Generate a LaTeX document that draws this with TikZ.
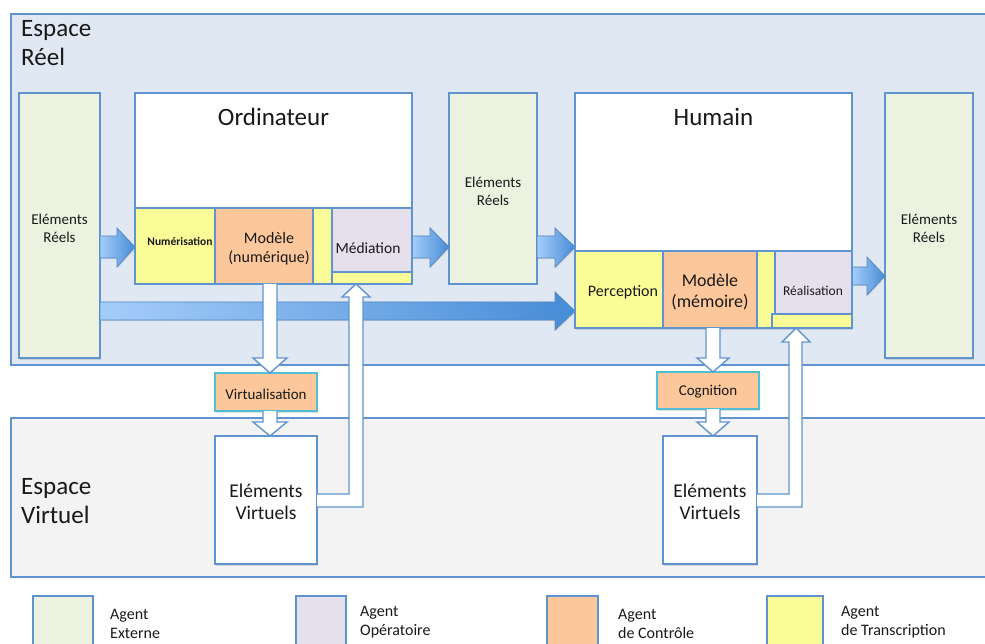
\documentclass[tikz,border=0pt]{standalone}
\usepackage{fontspec}
\setmainfont{Carlito}
\usetikzlibrary{shadows}
\definecolor{bord}{RGB}{96,148,208}
\definecolor{reelfill}{RGB}{223,232,243}
\definecolor{virtfill}{RGB}{243,243,243}
\definecolor{agreen}{RGB}{235,242,224}
\definecolor{ayellow}{RGB}{250,252,152}
\definecolor{apeach}{RGB}{252,200,155}
\definecolor{alav}{RGB}{229,224,236}
\definecolor{acyan}{RGB}{80,192,212}
\definecolor{gradlight}{RGB}{165,205,250}
\definecolor{graddark}{RGB}{70,140,215}
\tikzset{
  zone/.style={draw=bord, line width=1.5pt},
  boxx/.style={draw=bord, line width=1.6pt, anchor=north west, inner sep=0pt, outer sep=0pt,
     drop shadow={opacity=0.25, shadow xshift=1pt, shadow yshift=-1.5pt}},
  plain/.style={draw=bord, line width=1.6pt, anchor=north west, inner sep=0pt, outer sep=0pt},
  cyanbox/.style={draw=acyan, line width=1.5pt, anchor=north west, inner sep=0pt, outer sep=0pt,
     drop shadow={opacity=0.25, shadow xshift=1pt, shadow yshift=-1.5pt}},
  txt/.style={inner sep=0pt, align=center, text=black!90},
  whitearrow/.style={fill=white, draw=bord, line width=1.4pt, line join=miter},
  bluearrow/.style={left color=gradlight, right color=graddark, draw=bord!90!black, line width=0.7pt,
     drop shadow={opacity=0.2, shadow xshift=0.8pt, shadow yshift=-1.2pt}},
}
\newcommand{\bx}[7]{\node[#1, fill=#2, minimum width=#5pt, minimum height=#6pt] (#7) at (#3,#4) {};}
\begin{document}
\begin{tikzpicture}[x=1pt,y=-1pt]
\useasboundingbox (0,0) rectangle (985,644);
% spaces
\draw[zone, fill=reelfill] (11,14) rectangle (995,365);
\draw[zone, fill=virtfill] (11,418) rectangle (995,577);
\node[txt, anchor=west, font=\fontsize{25}{29}\selectfont, align=left] (er) at (21,43) {Espace\\Réel};
\node[txt, anchor=west, font=\fontsize{25}{29}\selectfont, align=left] (ev) at (21,501) {Espace\\Virtuel};

% elements reels
\bx{boxx}{agreen}{19}{93}{81}{265}{erl}
\bx{boxx}{agreen}{449}{93}{88}{191}{erm}
\bx{boxx}{agreen}{885}{93}{88}{265}{err}
\node[txt, font=\fontsize{15}{18}\selectfont] (erlt) at (59.5,228) {Eléments\\Réels};
\node[txt, font=\fontsize{15}{18}\selectfont] (ermt) at (493,191) {Eléments\\Réels};
\node[txt, font=\fontsize{15}{18}\selectfont] (errt) at (929,228) {Eléments\\Réels};

% blue arrows
\coordinate (a1e) at (135,247);
\shadedraw[bluearrow] (100,236) -- (117,236) -- (117,228) -- (a1e) -- (117,267) -- (117,258) -- (100,258) -- cycle;
\coordinate (a2e) at (449,247);
\shadedraw[bluearrow] (412,236) -- (430,236) -- (430,228) -- (a2e) -- (430,267) -- (430,258) -- (412,258) -- cycle;
\coordinate (a3e) at (575,247);
\shadedraw[bluearrow] (537,236) -- (555,236) -- (555,228) -- (a3e) -- (555,267) -- (555,258) -- (537,258) -- cycle;
\coordinate (a4e) at (885,276);
\shadedraw[bluearrow] (852,267) -- (867,267) -- (867,257) -- (a4e) -- (867,295) -- (867,285) -- (852,285) -- cycle;
\coordinate (a5e) at (575,311);
\shadedraw[bluearrow] (100,302) -- (555,302) -- (555,292) -- (a5e) -- (555,330) -- (555,320) -- (100,320) -- cycle;

% Ordinateur
\bx{boxx}{white}{135}{93}{277}{191}{ordi}
\node[txt, font=\fontsize{25}{29}\selectfont] (ordit) at (273.5,117) {Ordinateur};
\bx{plain}{ayellow}{135}{208}{80}{76}{num}
\bx{plain}{apeach}{215}{208}{98}{76}{modn}
\bx{plain}{ayellow}{313}{208}{19}{76}{ystr1}
\bx{plain}{alav}{332}{208}{80}{64}{med}
\bx{plain}{ayellow}{332}{272}{80}{12}{ybot1}
\node[txt, font=\fontsize{11.5}{13}\bfseries\selectfont] (numt) at (180,241) {Numérisation};
\node[txt, font=\fontsize{16}{19}\selectfont] (modnt) at (269,249) {Modèle\\(numérique)};
\node[txt, font=\fontsize{15.5}{18}\selectfont] (medt) at (368,248) {Médiation};

% Humain
\bx{boxx}{white}{575}{93}{277}{235}{hum}
\node[txt, font=\fontsize{25}{29}\selectfont] (humt) at (713.5,117) {Humain};
\bx{plain}{ayellow}{575}{251}{88}{77}{perc}
\bx{plain}{apeach}{663}{251}{94}{77}{modm}
\bx{plain}{ayellow}{757}{251}{18}{77}{ystr2}
\bx{plain}{alav}{775}{251}{77}{63}{real}
\bx{plain}{ayellow}{772}{314}{80}{14}{ybot2}
\node[txt, font=\fontsize{16}{19}\selectfont] (perct) at (623,292) {Perception};
\node[txt, font=\fontsize{18}{21}\selectfont] (modmt) at (710,291.5) {Modèle\\(mémoire)};
\node[txt, font=\fontsize{13.5}{16}\selectfont] (realt) at (813,291) {Réalisation};

% virtual side, computer
\bx{cyanbox}{apeach}{215}{373}{102}{38}{virt}
\node[txt, font=\fontsize{15}{18}\selectfont] (virtt) at (266,394) {Virtualisation};
\bx{boxx}{white}{215}{436}{102}{128}{evc}
\node[txt, font=\fontsize{19.5}{22}\selectfont] (evct) at (266,502) {Eléments\\Virtuels};

% virtual side, human
\bx{cyanbox}{apeach}{657}{372}{102}{37}{cogn}
\node[txt, font=\fontsize{15}{18}\selectfont] (cognt) at (708,392) {Cognition};
\bx{boxx}{white}{663}{436}{94}{128}{evh}
\node[txt, font=\fontsize{19.5}{22}\selectfont] (evht) at (710,502) {Eléments\\Virtuels};

% white arrows, computer
\draw[whitearrow] (263,284) -- (263,358) -- (253,358) -- (virt.north -| 270,0) -- (287,358) -- (277,358) -- (277,284);
\draw[whitearrow] (263,411) -- (263,422) -- (253,422) -- (evc.north -| 270,0) -- (287,422) -- (277,422) -- (277,411);
\draw[whitearrow] (evc.east |- 0,494) -- (349,494) -- (349,297) -- (342,297) -- (ybot1.south -| 356,0) -- (370,297) -- (363,297) -- (363,507) -- (evc.east |- 0,507);

% white arrows, human
\draw[whitearrow] (706,328) -- (706,358) -- (697,358) -- (cogn.north -| 713,0) -- (729,358) -- (720,358) -- (720,328);
\draw[whitearrow] (706,409) -- (706,422) -- (697,422) -- (evh.north -| 713,0) -- (729,422) -- (720,422) -- (720,409);
\draw[whitearrow] (evh.east |- 0,494) -- (789,494) -- (789,342) -- (782,342) -- (ybot2.south -| 796,0) -- (810,342) -- (802,342) -- (802,507) -- (evh.east |- 0,507);

% legend
\bx{plain}{agreen}{33}{596}{60}{60}{lg1}
\bx{plain}{alav}{296}{596}{50}{60}{lg2}
\bx{plain}{apeach}{547}{596}{51}{60}{lg3}
\bx{plain}{ayellow}{767}{596}{56}{60}{lg4}
\node[txt, anchor=west, align=left, font=\fontsize{16}{19}\selectfont] (lg1t) at (110,624) {Agent\\Externe};
\node[txt, anchor=west, align=left, font=\fontsize{16}{19}\selectfont] (lg2t) at (360,622) {Agent\\Opératoire};
\node[txt, anchor=west, align=left, font=\fontsize{16}{19}\selectfont] (lg3t) at (618,624) {Agent\\de Contrôle};
\node[txt, anchor=west, align=left, font=\fontsize{16}{19}\selectfont] (lg4t) at (841,622) {Agent\\de Transcription};
\end{tikzpicture}
\end{document}
